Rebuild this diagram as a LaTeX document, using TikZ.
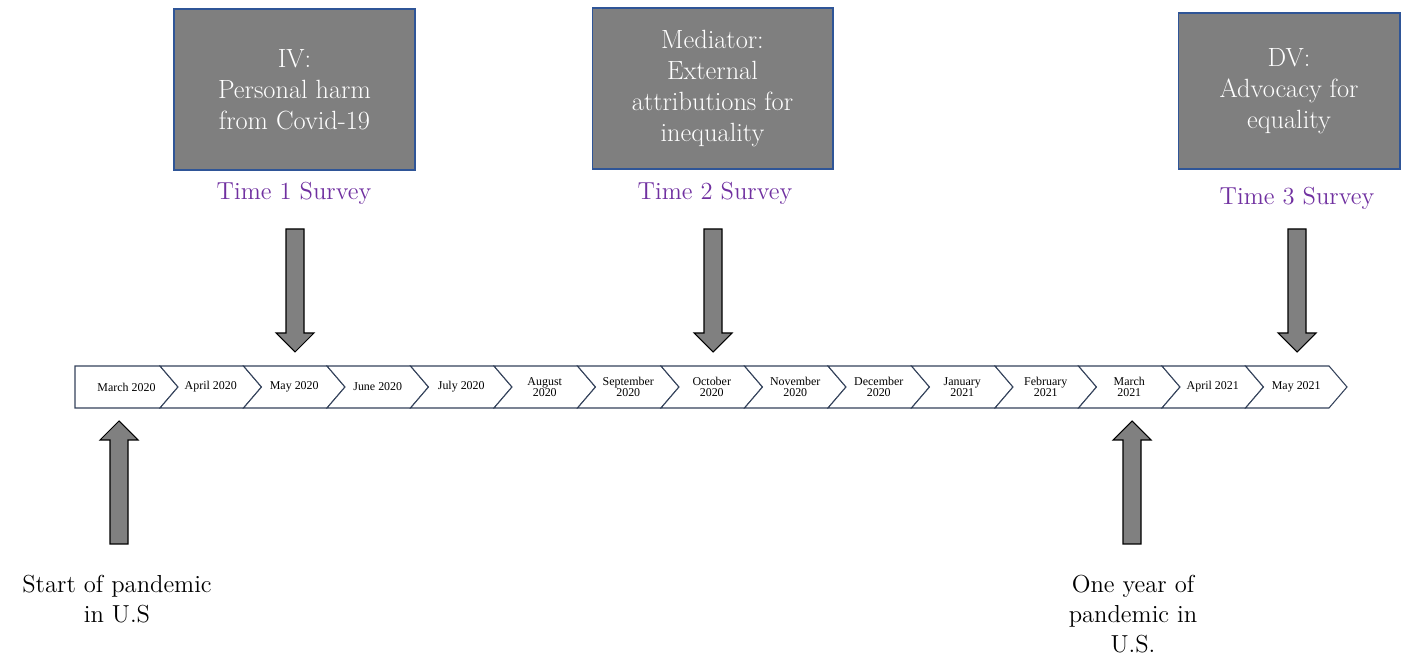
\documentclass[tikz,border=0pt]{standalone}
\usepackage{fontspec}
\newfontfamily\tnr{Liberation Serif}
\usetikzlibrary{positioning}
\definecolor{boxgray}{RGB}{127,127,127}
\definecolor{boxline}{RGB}{47,85,151}
\definecolor{survey}{RGB}{112,48,160}
\definecolor{tline}{RGB}{52,66,91}
\definecolor{arrgray}{RGB}{128,128,128}

\begin{document}
\begin{tikzpicture}
  [
    x=0.02cm, y=-0.02cm,
    var/.style={  draw=boxline,  fill=boxgray,  line width=0.6pt,  text=white,  align=center,  font=\fontsize{15}{17.5}\selectfont},
    svy/.style={  text=survey,  font=\fontsize{14}{17}\selectfont},
    month/.style={  font=\tnr\fontsize{6.8}{6.4}\selectfont,  align=center,  inner sep=0pt},
    seg/.style={  draw=tline,  fill=white,  line width=0.6pt},
    blk/.style={  draw=black,  fill=arrgray,  line width=0.6pt,  line join=miter},
    evt/.style={  align=center,  font=\fontsize{14}{17}\selectfont}
  ]
  \useasboundingbox (0,0) rectangle (1406,661);

  % survey boxes
  \node[var,minimum width=4.82cm,minimum height=3.22cm] (iv) at (294.5,89.5) {IV:\\Personal harm\\from Covid-19};
  \node[var,minimum width=4.82cm,minimum height=3.22cm] (med) at (712.5,88.5) {Mediator:\\External\\attributions for\\inequality};
  \node[var,minimum width=4.44cm,minimum height=3.12cm] (dv) at (1289,91) {DV:\\Advocacy for\\equality};

  \node[svy] (t1) at (294,193) {Time 1 Survey};
  \node[svy] (t2) at (715,193) {Time 2 Survey};
  \node[svy] (t3) at (1297,198) {Time 3 Survey};

  % timeline
  \foreach \m [count=\i from 0] in {March 2020,April 2020,May 2020,June 2020,July 2020,{August\\2020},{September\\2020},{October\\2020},{November\\2020},{December\\2020},{January\\2021},{February\\2021},{March\\2021},April 2021,May 2021}
  {
    \pgfmathsetmacro\xr{160+\i*83.5}
    \pgfmathsetmacro\xl{ifthenelse(\i==0,75,\xr-83.5)}
    \pgfmathsetmacro\nt{ifthenelse(\i==0,0,18)}
    \draw[seg] (\xl,366) -- (\xr,366) -- (\xr+18,387) -- (\xr,408) -- (\xl,408) -- (\xl+\nt,387) -- cycle;
    \node[month] (m\i) at ({(\xl+\xr)/2+9},387) {\m};
  }

  % pointers (tip, then direction: 1 down, -1 up)
  \coordinate (dn1) at (295,352);
  \coordinate (dn2) at (713,352);
  \coordinate (dn3) at (1297,352);
  \coordinate (up1) at (119,421);
  \coordinate (up2) at (1132,421);
  \foreach \p/\s in {dn1/1,dn2/1,dn3/1,up1/-1,up2/-1}
    \draw[blk] (\p) -- ++(19,-19*\s) -- ++(-10,0) -- ++(0,-104*\s) -- ++(-18,0) -- ++(0,104*\s) -- ++(-10,0) -- cycle;

  \node[evt] (start) at (117,599) {Start of pandemic\\in U.S};
  \node[evt] (year) at (1133,614) {One year of\\pandemic in\\U.S.};
\end{tikzpicture}
\end{document}
